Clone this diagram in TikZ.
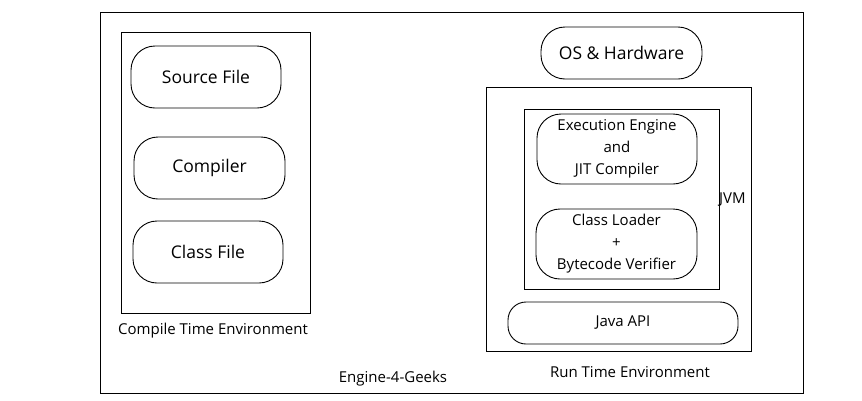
\documentclass[tikz,border=0pt]{standalone}
\usepackage{fontspec}
\setmainfont{Open Sans}

\begin{document}
\begin{tikzpicture}[x=1pt,y=-1pt,
  part/.style={draw,rounded corners=24pt,line width=0.9pt,font=\fontsize{17.5}{20}\selectfont},
  multipart/.style={part,align=center,font=\fontsize{15}{22}\selectfont},
  caption/.style={font=\fontsize{15}{17}\selectfont}]
\useasboundingbox (0,0) rectangle (862,400);
% frames
\draw[line width=0.9pt] (100,12) rectangle (803,393);
\draw[line width=0.9pt] (121,32) rectangle (310,313);
\draw[line width=0.9pt] (486,87) rectangle (751,351);
\draw[line width=0.9pt] (524,109) rectangle (719,289);
% compile time side
\node[part,minimum width=150pt,minimum height=62pt] (src) at (206,77) {Source File};
\node[part,minimum width=151pt,minimum height=62pt] (comp) at (209.5,168) {Compiler};
\node[part,minimum width=150pt,minimum height=62pt] (cls) at (208,252) {Class File};
\node[caption] (cte) at (213,331) {Compile Time Environment};
% run time side
\node[part,minimum width=161pt,minimum height=52pt] (os) at (621.5,53) {OS \& Hardware};
\node[multipart,minimum width=160pt,minimum height=70pt] (exe) at (617,149) {Execution Engine\\and\\JIT Compiler};
\node[multipart,minimum width=161pt,minimum height=70pt] (ldr) at (616.5,244) {Class Loader\\+\\Bytecode Verifier};
\node[part,rounded corners=18pt,minimum width=230pt,minimum height=42pt,font=\fontsize{15}{17}\selectfont] (api) at (623,323) {Java API};
\node[caption,anchor=west,inner sep=0pt] (jvm) at (719,200) {JVM};
\node[caption] (rte) at (630,372) {Run Time Environment};
\node[caption] (eng) at (393,379) {Engine-4-Geeks};
\end{tikzpicture}
\end{document}
